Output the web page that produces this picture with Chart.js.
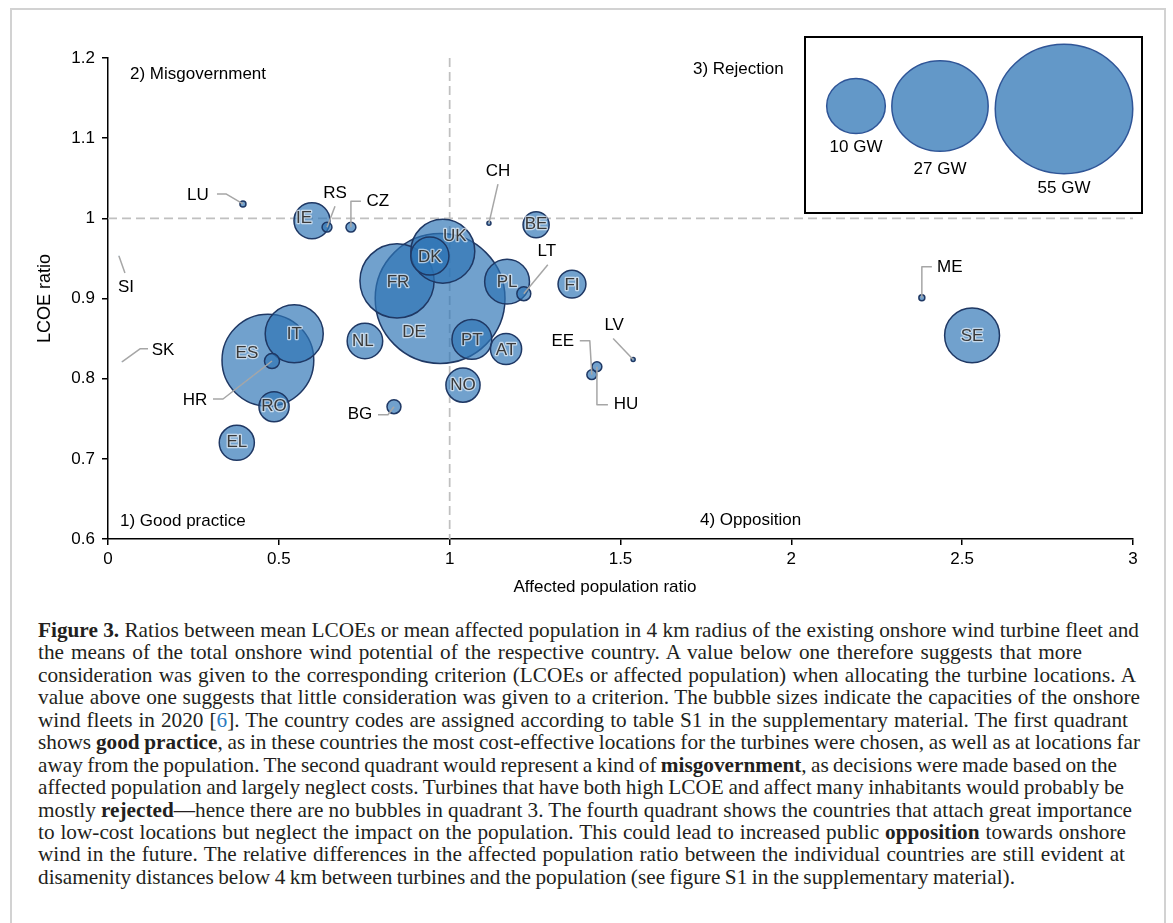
<!DOCTYPE html>
<html>
<head>
<meta charset="utf-8">
<script src="https://cdn.jsdelivr.net/npm/chart.js@4.4.1/dist/chart.umd.min.js"></script>
<style>
  html, body { margin: 0; padding: 0; background: #fff; }
  body { width: 1173px; height: 923px; position: relative; overflow: hidden; }
  #frame { position: absolute; left: 10px; top: 8px; width: 1156px; height: 960px;
           border: 2px solid #d2d2d2; box-sizing: border-box; }
  #wrap { position: absolute; left: 0; top: 0; width: 1173px; height: 610px; }
  #caption { position: absolute; left: 38px; top: 619px;
             font-family: "Liberation Serif", "Times New Roman", serif; font-size: 17px; color: #231f20; }
  .ln { white-space: nowrap; height: 22.45px; line-height: 22.45px; }
  .ln > span { display: inline-block; }
  .ref { color: #2b7bbf; }
</style>
</head>
<body>
<div id="frame"></div>
<div id="wrap"><canvas id="c" width="1173" height="610"></canvas></div>
<div id="caption">
  <div class="ln"><span><b>Figure 3.</b> Ratios between mean LCOEs or mean affected population in 4 km radius of the existing onshore wind turbine fleet and</span></div>
  <div class="ln"><span>the means of the total onshore wind potential of the respective country. A value below one therefore suggests that more</span></div>
  <div class="ln"><span>consideration was given to the corresponding criterion (LCOEs or affected population) when allocating the turbine locations. A</span></div>
  <div class="ln"><span>value above one suggests that little consideration was given to a criterion. The bubble sizes indicate the capacities of the onshore</span></div>
  <div class="ln"><span>wind fleets in 2020 [<span class="ref">6</span>]. The country codes are assigned according to table S1 in the supplementary material. The first quadrant</span></div>
  <div class="ln"><span>shows <b>good practice</b>, as in these countries the most cost-effective locations for the turbines were chosen, as well as at locations far</span></div>
  <div class="ln"><span>away from the population. The second quadrant would represent a kind of <b>misgovernment</b>, as decisions were made based on the</span></div>
  <div class="ln"><span>affected population and largely neglect costs. Turbines that have both high LCOE and affect many inhabitants would probably be</span></div>
  <div class="ln"><span>mostly <b>rejected</b>—hence there are no bubbles in quadrant 3. The fourth quadrant shows the countries that attach great importance</span></div>
  <div class="ln"><span>to low-cost locations but neglect the impact on the population. This could lead to increased public <b>opposition</b> towards onshore</span></div>
  <div class="ln"><span>wind in the future. The relative differences in the affected population ratio between the individual countries are still evident at</span></div>
  <div class="ln"><span>disamenity distances below 4 km between turbines and the population (see figure S1 in the supplementary material).</span></div>
</div>
<script>
// Country codes and their ratios (affected population, LCOE) plus onshore capacity in GW
const countries   = ['DE','ES','FR','UK','IT','SE','PL','PT','DK','IE','NL','EL','NO','AT','RO',
                     'FI','BE','BG','HR','LT','EE','HU','RS','CZ','LU','ME','CH','LV','SI','SK'];
const affectedPop = [0.972,0.468,0.846,0.980,0.545,2.529,1.168,1.065,0.942,0.597,0.752,0.377,1.039,1.165,0.486,
                     1.358,1.253,0.837,0.480,1.217,1.416,1.431,0.641,0.711,0.395,2.382,1.115,1.537,0.032,0.041];
const lcoeRatio   = [0.900,0.823,0.922,0.959,0.856,0.854,0.921,0.849,0.953,0.997,0.847,0.720,0.792,0.837,0.765,
                     0.918,0.992,0.765,0.822,0.906,0.805,0.815,0.989,0.989,1.018,0.901,0.994,0.824,0.953,0.821];
const capacityGW  = [52.0,26.0,17.0,12.6,10.4,9.3,6.2,4.9,4.5,4.0,3.9,3.8,3.6,3.0,2.8,
                     2.4,2.1,0.6,0.7,0.6,0.3,0.3,0.3,0.3,0.11,0.11,0.05,0.05,0.003,0.003];
const legendGW    = [10, 27, 55];

const xTickValues = [0, 0.5, 1, 1.5, 2, 2.5, 3];
const xTickLabels = ['0', '0.5', '1', '1.5', '2', '2.5', '3'];
const yTickValues = [0.6, 0.7, 0.8, 0.9, 1.0, 1.1, 1.2];
const yTickLabels = ['0.6', '0.7', '0.8', '0.9', '1', '1.1', '1.2'];

// bubble area proportional to capacity
const PX_PER_SQRT_GW = 9;
const radiusOf = gw => PX_PER_SQRT_GW * Math.sqrt(gw);

const SANS = '"Liberation Sans", Arial, Helvetica, sans-serif';
const FONT17 = '17px ' + SANS;

// labels drawn inside the bubbles, nudged in px from the bubble centre
const insideLabels = {
  DE: [-26, 34], ES: [-21, -7], FR: [1, 1], UK: [12, -15], IT: [0, 1], SE: [0, 1],
  PL: [0, 1], PT: [0, 1], DK: [0, 1], IE: [-8, -2], NL: [-2, 0], EL: [0, 0],
  NO: [0, 0], AT: [0, 1], RO: [0, 0], FI: [0, 1], BE: [0, 0]
};
// labels placed outside with a leader line (bend points and text position in px from the bubble)
const calloutLabels = {
  LU: { path: [[-17, -10], [-26, -10]], text: [-45, -9] },
  RS: { path: [[8, -21]], text: [8, -34] },
  CZ: { path: [[0, -26], [10, -26]], text: [27, -26] },
  SI: { path: [[6, 17]], text: [7, 31] },
  SK: { path: [[18, -13], [26, -13]], text: [41, -12] },
  CH: { path: [[9, -39]], text: [9, -52] },
  LT: { path: [[24, -29]], text: [23, -42] },
  LV: { path: [[-20, -21]], text: [-19, -34] },
  EE: { path: [[-2, -34], [-12, -34]], text: [-29, -33] },
  HU: { path: [[0, 38], [11, 38]], text: [29, 38] },
  HR: { path: [[-49, 38], [-59, 38]], text: [-77, 39] },
  BG: { path: [[-6, 8], [-16, 8]], text: [-34, 8] },
  ME: { path: [[0, -31], [10, -31]], text: [28, -30] }
};

const BUBBLE_FILL = 'rgba(46,117,182,0.68)';
const BUBBLE_EDGE = '#1f3864';

const decorations = {
  id: 'decorations',
  beforeDatasetsDraw(chart) {
    const { ctx, chartArea: a, scales: { x, y } } = chart;
    const px = x.getPixelForValue(1), py = y.getPixelForValue(1);
    ctx.save();
    ctx.strokeStyle = '#c0c0c0';
    ctx.lineWidth = 1.75;
    ctx.setLineDash([9, 5]);
    ctx.beginPath(); ctx.moveTo(px, a.top); ctx.lineTo(px, a.bottom); ctx.stroke();
    ctx.beginPath(); ctx.moveTo(a.left, py); ctx.lineTo(a.right, py); ctx.stroke();
    ctx.restore();

    // quadrant names
    ctx.save();
    ctx.font = FONT17; ctx.fillStyle = '#000'; ctx.textBaseline = 'middle'; ctx.textAlign = 'left';
    ctx.fillText('2) Misgovernment', a.left + 22, a.top + 16);
    ctx.fillText('3) Rejection', a.left + 585, a.top + 11);
    ctx.fillText('1) Good practice', a.left + 12, a.bottom - 18);
    ctx.fillText('4) Opposition', a.left + 592, a.bottom - 19);
    ctx.restore();
  },
  afterDatasetsDraw(chart) {
    const { ctx } = chart;
    const els = chart.getDatasetMeta(0).data;
    ctx.save();
    ctx.font = FONT17;
    ctx.textAlign = 'center';
    ctx.textBaseline = 'middle';
    countries.forEach((code, i) => {
      const el = els[i];
      const cx = el.x, cy = el.y;
      if (insideLabels[code]) {
        const [dx, dy] = insideLabels[code];
        ctx.lineJoin = 'round';
        ctx.strokeStyle = 'rgba(255,255,255,0.6)';
        ctx.lineWidth = 2.5;
        ctx.strokeText(code, cx + dx, cy + dy);
        ctx.fillStyle = '#3a3a3a';
        ctx.fillText(code, cx + dx, cy + dy);
      } else if (calloutLabels[code]) {
        const c = calloutLabels[code];
        ctx.strokeStyle = '#a6a6a6';
        ctx.lineWidth = 1.5;
        ctx.beginPath();
        ctx.moveTo(cx, cy);
        c.path.forEach(([dx, dy]) => ctx.lineTo(cx + dx, cy + dy));
        ctx.stroke();
        ctx.fillStyle = '#000';
        ctx.fillText(code, cx + c.text[0], cy + c.text[1]);
      }
    });
    ctx.restore();
  },
  afterDraw(chart) {
    const { ctx, chartArea: a } = chart;
    // capacity key
    const box = { l: a.right - 328, t: a.top - 21, w: 337, h: 176 };
    ctx.save();
    ctx.fillStyle = '#fff';
    ctx.fillRect(box.l, box.t, box.w, box.h);
    ctx.strokeStyle = '#000';
    ctx.lineWidth = 2;
    ctx.strokeRect(box.l, box.t, box.w, box.h);
    const centres = [[box.l + 51, box.t + 69], [box.l + 135, box.t + 69], [box.l + 259, box.t + 72]];
    const gaps = [14, 18, 15];
    legendGW.forEach((gw, i) => {
      const r = radiusOf(gw);
      const [cx, cy] = centres[i];
      ctx.beginPath();
      ctx.ellipse(cx, cy, r * 1.03, r * 0.97, 0, 0, Math.PI * 2);
      ctx.fillStyle = '#6398c8';
      ctx.fill();
      ctx.strokeStyle = '#2f5597';
      ctx.lineWidth = 1.5;
      ctx.stroke();
      ctx.font = FONT17; ctx.fillStyle = '#000';
      ctx.textAlign = 'center'; ctx.textBaseline = 'middle';
      ctx.fillText(gw + ' GW', cx, cy + r * 0.97 + gaps[i]);
    });

    // axis titles
    ctx.font = FONT17; ctx.fillStyle = '#000';
    ctx.textAlign = 'center'; ctx.textBaseline = 'middle';
    ctx.fillText('Affected population ratio', a.left + 497, a.bottom + 48);
    ctx.translate(a.left - 63, (a.top + a.bottom) / 2);
    ctx.rotate(-Math.PI / 2);
    ctx.font = '18px ' + SANS;
    ctx.fillText('LCOE ratio', 0, 0);
    ctx.restore();
  }
};

const points = countries.map((c, i) => ({ x: affectedPop[i], y: lcoeRatio[i], r: radiusOf(capacityGW[i]) }));

new Chart(document.getElementById('c'), {
  type: 'bubble',
  data: {
    datasets: [{
      label: 'Onshore wind capacity',
      data: points,
      backgroundColor: BUBBLE_FILL,
      borderColor: BUBBLE_EDGE,
      borderWidth: ctx => (ctx.raw && ctx.raw.r < 1 ? 0 : 1.5),
      hoverRadius: 0,
      clip: false
    }]
  },
  options: {
    responsive: false,
    animation: false,
    devicePixelRatio: 1,
    events: [],
    layout: { autoPadding: false, padding: { left: 0, top: 58, right: 40, bottom: 0 } },
    plugins: { legend: { display: false }, tooltip: { enabled: false } },
    scales: {
      x: {
        type: 'linear', min: 0, max: 3,
        afterBuildTicks: s => { s.ticks = xTickValues.map(v => ({ value: v })); },
        afterFit: s => { s.height = 71; },
        ticks: { callback: (v, i) => xTickLabels[i], font: { family: SANS, size: 17 }, color: '#000',
                 padding: 4, maxRotation: 0, autoSkip: false },
        grid: { display: true, drawOnChartArea: false, drawTicks: true, tickLength: 6,
                color: '#000', lineWidth: 1.5 },
        border: { display: true, color: '#000', width: 1.5 }
      },
      y: {
        type: 'linear', min: 0.6, max: 1.2,
        afterBuildTicks: s => { s.ticks = yTickValues.map(v => ({ value: v })); },
        afterFit: s => { s.width = 108; },
        ticks: { callback: (v, i) => yTickLabels[i], font: { family: SANS, size: 17 }, color: '#000',
                 padding: 7, autoSkip: false },
        grid: { display: true, drawOnChartArea: false, drawTicks: true, tickLength: 6,
                color: '#000', lineWidth: 1.5 },
        border: { display: true, color: '#000', width: 1.5 }
      }
    }
  },
  plugins: [decorations]
});

// caption: pick the size from the first line, then even out each line's word spacing
const lineWidths = [1101, 1044, 1098, 1102, 1090, 1102, 1079, 1086, 1094, 1088, 1087, 977];
const caption = document.getElementById('caption');
const spans = Array.from(caption.querySelectorAll('.ln > span'));
const w0 = spans[0].getBoundingClientRect().width;
if (w0 > 0) {
  caption.style.fontSize = (17 * lineWidths[0] / w0).toFixed(2) + 'px';
  spans.forEach((s, i) => {
    const gaps = (s.textContent.match(/ /g) || []).length;
    const diff = lineWidths[i] - s.getBoundingClientRect().width;
    if (gaps > 0) s.style.wordSpacing = (diff / gaps).toFixed(3) + 'px';
  });
}
</script>
</body>
</html>
